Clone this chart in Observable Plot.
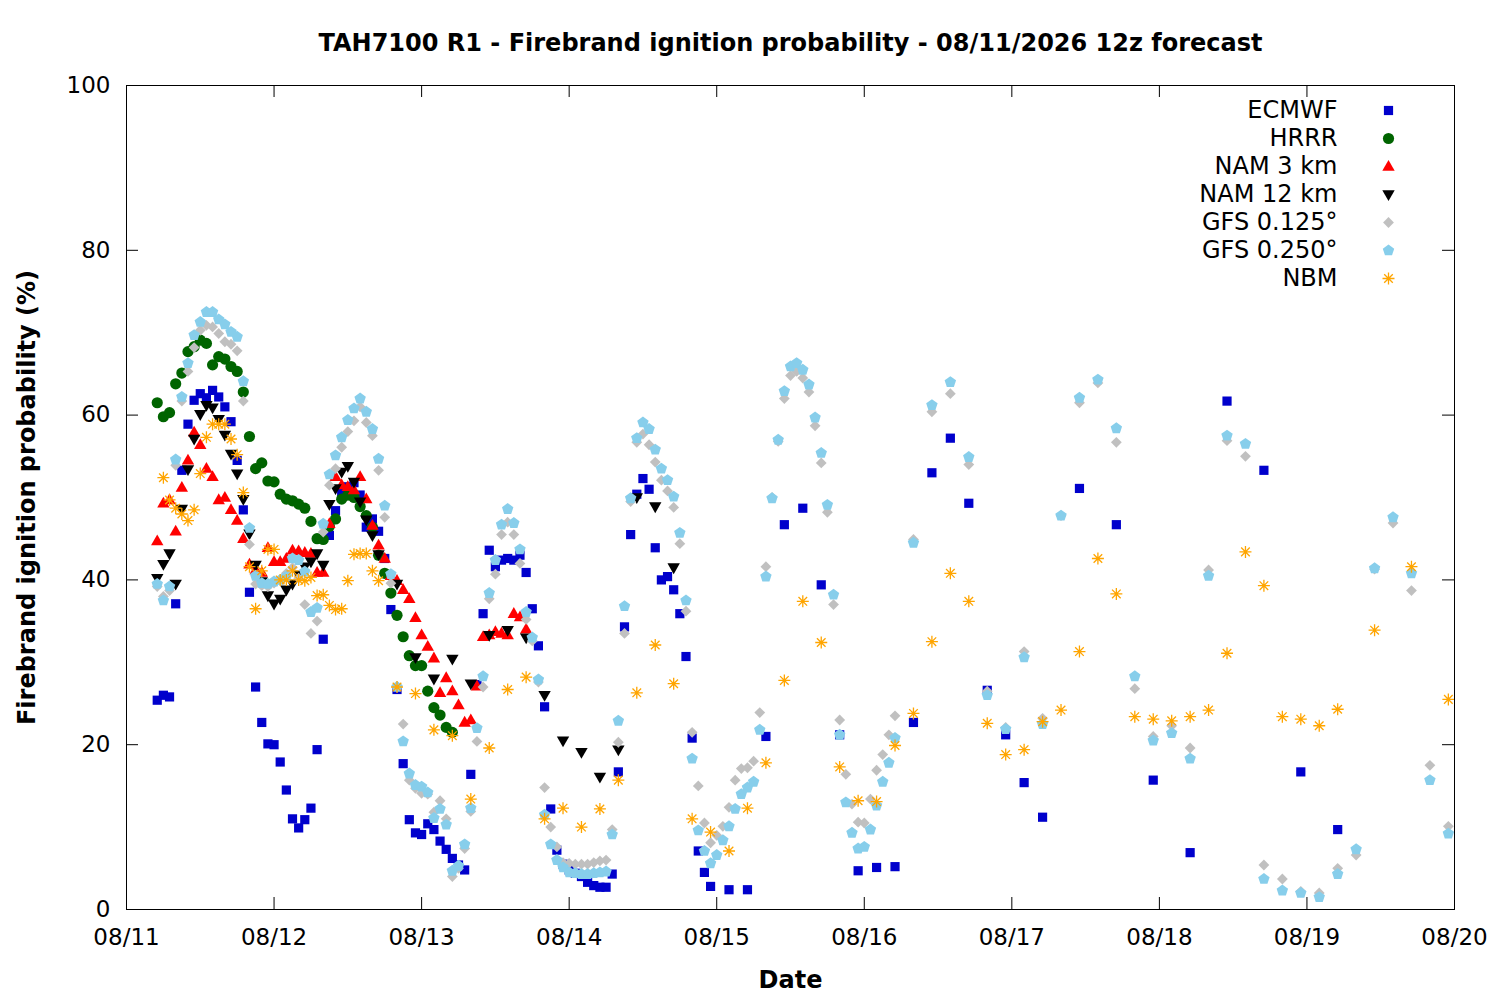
<!DOCTYPE html>
<html>
<head>
<meta charset="utf-8">
<script src="https://cdn.jsdelivr.net/npm/d3@7"></script>
<script src="https://cdn.jsdelivr.net/npm/@observablehq/plot@0.6"></script>
<style>
  html, body { margin: 0; padding: 0; background: #ffffff; }
  #chart svg { display: block; }
</style>
</head>
<body>
<div id="chart"></div>
<script>
// ---------------- text ----------------
const titleText = "TAH7100 R1 - Firebrand ignition probability - 08/11/2026 12z forecast";
const xLabel = "Date";
const yLabel = "Firebrand ignition probability (%)";
const dayLabels = ["08/11","08/12","08/13","08/14","08/15","08/16","08/17","08/18","08/19","08/20"];
const yTicks = [0, 20, 40, 60, 80, 100];
const modelNames = ["ECMWF","HRRR","NAM 3 km","NAM 12 km","GFS 0.125°","GFS 0.250°","NBM"];
const modelColors = ["#0000cc","#006400","#ff0000","#000000","#c0c0c0","#87ceeb","#ffa500"];

// 12z run plotted in local time (12z = 05 local on 08/11); values by forecast hour
// ---------------- ECMWF ----------------
const ecmwfHourly = [ // f0..f90, every hour
  25.4, 26.0, 25.8, 37.1, 53.3, 58.9, 61.8, 62.6, 62.1, 63.0,
  62.2, 61.0, 59.2, 54.5, 48.5, 38.5, 27.0, 22.7, 20.1, 20.0,
  17.9, 14.5, 11.0, 9.9, 10.9, 12.3, 19.4, 32.8, 45.4, 48.4,
  50.5, 51.3, 51.8, 50.3, 46.4, 47.4, 45.9, 42.6, 36.4, 26.7,
  17.7, 10.9, 9.3, 9.1, 10.4, 9.7, 8.3, 7.3, 6.2, 5.4,
  4.8, 16.4, 27.3, 35.9, 43.6, 41.6, 42.4, 42.6, 42.4, 43.0,
  40.9, 36.5, 32.0, 24.6, 12.2, 7.2, 5.5, 4.8, 4.4, 4.0,
  3.3, 2.9, 2.7, 2.7, 4.3, 16.7, 34.3, 45.5, 50.4, 52.3,
  51.0, 43.9, 40.0, 40.4, 38.8, 35.9, 30.7, 20.8, 7.1, 4.5,
  2.8];
const ecmwf3h = [ // f93..f144, every 3 h
  2.4, 2.4, 21.0, 46.7, 48.7, 39.4, 21.2, 4.7, 5.1, 5.2,
  22.7, 53.0, 57.2, 49.3, 26.6, 21.2, 15.4, 11.2];
const ecmwf6h = [ // f150..f192, every 6 h
  51.1, 46.7, 15.7, 6.9, 61.7, 53.3, 16.7, 9.7];

// ---------------- HRRR ----------------
const hrrrHourly = [ // f0..f48
  61.5, 59.8, 60.3, 63.8, 65.1, 67.7, 68.3, 69.1, 68.7, 66.1,
  67.1, 66.8, 65.9, 65.3, 62.8, 57.4, 53.5, 54.2, 52.0, 51.9,
  50.4, 49.8, 49.6, 49.2, 48.7, 47.1, 45.0, 44.9, 46.5, 47.4,
  49.8, 50.3, 50.0, 48.9, 47.8, 46.4, 43.0, 40.8, 38.4, 35.7,
  33.1, 30.8, 29.6, 29.6, 26.5, 24.5, 23.6, 22.1, 21.5];

// ---------------- NAM 3 km ----------------
const nam3Hourly = [ // f0..f60
  44.7, 49.3, 49.7, 45.9, 51.2, 54.5, 57.9, 56.4, 53.5, 52.5,
  49.7, 50.0, 48.5, 47.2, 45.0, 41.9, 41.2, 40.9, 43.9, 42.2,
  42.2, 42.6, 43.6, 43.5, 43.3, 43.2, 40.9, 40.9, 46.8, 52.5,
  51.5, 51.3, 50.9, 52.5, 49.8, 46.6, 44.2, 42.6, 40.5, 39.9,
  38.8, 37.7, 35.4, 33.3, 31.9, 30.5, 26.3, 28.1, 26.5, 24.8,
  22.7, 23.0, 27.1, 33.1, 33.3, 33.7, 33.5, 33.3, 35.9, 35.5,
  34.0];

// ---------------- NAM 12 km ----------------
const nam12Hourly = [ // f0..f36
  40.2, 41.9, 43.2, 39.5, 48.6, 53.4, 57.1, 60.1, 61.2, 60.9,
  59.5, 57.6, 55.3, 52.9, 49.8, 45.6, 41.8, 39.8, 38.1, 37.1,
  37.7, 38.8, 39.5, 40.6, 41.6, 42.2, 43.2, 41.8, 49.2, 51.1,
  53.1, 53.8, 51.9, 49.5, 47.3, 45.4, 43.1];
const nam12_3h = [ // f39..f84
  39.5, 30.6, 28.0, 30.4, 27.4, 33.3, 33.9, 33.0, 26.0, 20.5,
  19.1, 16.1, 19.4, 50.0, 48.9, 41.5];

// ---------------- GFS 0.125 ----------------
const gfs125Hourly = [ // f0..f120
  39.2, 38.0, 38.7, 53.9, 61.7, 65.3, 68.2, 70.3, 70.9, 70.7,
  69.9, 68.9, 68.6, 67.8, 61.7, 44.3, 39.5, 39.3, 39.2, 39.6,
  40.0, 40.8, 41.5, 40.2, 37.0, 33.5, 35.0, 45.8, 51.5, 53.5,
  56.1, 58.0, 59.3, 61.0, 59.1, 57.5, 53.3, 47.6, 39.6, 27.0,
  22.5, 15.7, 14.7, 14.1, 14.0, 11.8, 13.2, 11.0, 4.0, 5.0,
  7.4, 11.9, 20.4, 27.0, 37.7, 40.7, 45.5, 47.0, 45.5, 42.0,
  35.2, 32.6, 27.6, 14.8, 10.0, 7.6, 5.7, 5.6, 5.5, 5.5,
  5.5, 5.7, 5.9, 6.0, 9.7, 20.3, 33.5, 49.5, 56.7, 57.7,
  56.4, 54.3, 52.1, 50.8, 48.8, 44.4, 36.2, 21.5, 15.0, 10.5,
  8.1, 9.0, 10.1, 12.4, 15.7, 17.1, 17.2, 18.0, 23.9, 41.6,
  50.0, 56.8, 62.0, 64.8, 65.3, 64.5, 62.8, 58.7, 54.2, 48.2,
  37.0, 23.0, 16.4, 12.8, 10.6, 10.5, 13.4, 16.9, 18.8, 21.2,
  23.5];
const gfs125_3h = [ // f123..f210
  44.9, 60.4, 62.6, 54.0, 26.5, 22.1, 31.3, 23.2, 47.8, 61.5,
  63.9, 56.7, 26.8, 21.0, 22.3, 19.6, 41.2, 56.9, 55.0, 5.4,
  3.7, 2.2, 2.0, 5.0, 6.6, 41.3, 46.9, 38.7, 17.5, 10.1];

// ---------------- GFS 0.250 ----------------
const gfs250Hourly = [ // f0..f120
  39.5, 37.5, 39.2, 54.6, 62.2, 66.3, 69.7, 71.3, 72.5, 72.5,
  71.6, 71.0, 70.1, 69.5, 64.1, 46.3, 40.5, 39.6, 39.5, 39.8,
  40.0, 40.4, 42.6, 42.4, 41.0, 36.1, 36.6, 46.8, 52.8, 55.1,
  57.3, 59.4, 60.8, 62.0, 60.4, 58.3, 54.7, 49.0, 40.7, 27.0,
  20.4, 16.5, 15.1, 14.9, 14.2, 11.1, 12.2, 10.3, 4.7, 5.3,
  7.9, 12.3, 22.0, 28.3, 38.4, 42.4, 46.7, 48.6, 46.9, 43.7,
  36.1, 33.0, 27.9, 11.5, 7.9, 6.0, 5.1, 4.5, 4.4, 4.3,
  4.3, 4.4, 4.5, 4.6, 9.1, 22.9, 36.8, 49.9, 57.2, 59.1,
  58.3, 55.8, 53.5, 52.1, 50.1, 45.7, 37.5, 18.3, 9.6, 7.1,
  5.6, 6.6, 8.4, 10.1, 12.2, 14.0, 14.8, 15.5, 21.8, 40.4,
  49.9, 57.0, 62.9, 65.9, 66.3, 65.5, 63.7, 59.7, 55.4, 49.1,
  38.2, 21.2, 13.0, 9.3, 7.4, 7.6, 9.7, 12.6, 15.5, 17.8,
  20.8];
const gfs250_3h = [ // f123..f210
  44.5, 61.2, 64.0, 54.9, 26.0, 21.9, 30.6, 22.5, 47.8, 62.1,
  64.3, 58.4, 28.3, 20.5, 21.4, 18.3, 40.5, 57.5, 56.5, 3.7,
  2.3, 2.0, 1.5, 4.3, 7.3, 41.4, 47.6, 40.8, 15.7, 9.2];

// ---------------- NBM ----------------
const nbmHourly = [ // f1..f36
  52.4, 49.7, 48.7, 48.0, 47.2, 48.5, 52.9, 57.3, 58.9, 58.9,
  58.9, 57.1, 55.2, 50.6, 41.6, 36.5, 41.1, 43.7, 43.7, 40.0,
  40.0, 41.1, 40.0, 39.9, 40.3, 38.1, 38.2, 36.9, 36.4, 36.5,
  39.9, 43.1, 43.2, 43.2, 41.1, 39.9];
const nbm3h = [ // f39..f192
  27.0, 26.2, 21.8, 21.1, 13.4, 19.6, 26.7, 28.2, 11.0, 12.3,
  10.0, 12.2, 15.7, 26.3, 32.1, 27.4, 11.0, 9.4, 7.1, 12.3,
  17.8, 27.8, 37.4, 32.4, 17.3, 13.2, 13.1, 19.9, 23.8, 32.5,
  40.8, 37.4, 22.6, 18.8, 19.4, 22.8, 24.2, 31.3, 42.6, 38.3,
  23.4, 23.1, 22.9, 23.4, 24.2, 31.1, 43.4, 39.3, 23.4, 23.1,
  22.3, 24.3];
const nbm6h = [ // f198..f210
  33.9, 41.6, 25.5];

// ---------------- assemble ----------------
const runStart = Date.UTC(2026, 7, 11, 5); // 08/11 12z shown as 05 local
const hour = 3600e3;
function segment(model, firstHour, step, values) {
  return values.map((v, i) => ({model, time: new Date(runStart + (firstHour + i * step) * hour), value: v}));
}
const seriesData = {
  "ECMWF": [...segment("ECMWF", 0, 1, ecmwfHourly), ...segment("ECMWF", 93, 3, ecmwf3h), ...segment("ECMWF", 150, 6, ecmwf6h)],
  "HRRR": segment("HRRR", 0, 1, hrrrHourly),
  "NAM 3 km": segment("NAM 3 km", 0, 1, nam3Hourly),
  "NAM 12 km": [...segment("NAM 12 km", 0, 1, nam12Hourly), ...segment("NAM 12 km", 39, 3, nam12_3h)],
  "GFS 0.125°": [...segment("GFS 0.125°", 0, 1, gfs125Hourly), ...segment("GFS 0.125°", 123, 3, gfs125_3h)],
  "GFS 0.250°": [...segment("GFS 0.250°", 0, 1, gfs250Hourly), ...segment("GFS 0.250°", 123, 3, gfs250_3h)],
  "NBM": [...segment("NBM", 1, 1, nbmHourly), ...segment("NBM", 39, 3, nbm3h), ...segment("NBM", 198, 6, nbm6h)]
};

const dayTicks = dayLabels.map(s => { const [m, d] = s.split("/").map(Number); return new Date(Date.UTC(2026, m - 1, d)); });

// ---------------- point symbols (gnuplot-like) ----------------
function pentagonPath(c, r) {
  for (let k = 0; k < 5; k++) {
    const a = -Math.PI / 2 + k * 2 * Math.PI / 5;
    const px = r * Math.cos(a), py = r * Math.sin(a);
    if (k === 0) c.moveTo(px, py); else c.lineTo(px, py);
  }
  c.closePath();
}
const symbolShapes = {
  "ECMWF": {draw(c) { c.rect(-4.6, -4.6, 9.2, 9.2); }},
  "HRRR": {draw(c) { c.moveTo(5.6, 0); c.arc(0, 0, 5.6, 0, 2 * Math.PI); c.closePath(); }},
  "NAM 3 km": {draw(c) { c.moveTo(0, -6.6); c.lineTo(6.2, 4.2); c.lineTo(-6.2, 4.2); c.closePath(); }},
  "NAM 12 km": {draw(c) { c.moveTo(0, 6.6); c.lineTo(6.2, -4.2); c.lineTo(-6.2, -4.2); c.closePath(); }},
  "GFS 0.125°": {draw(c) { c.moveTo(0, -5.4); c.lineTo(5.4, 0); c.lineTo(0, 5.4); c.lineTo(-5.4, 0); c.closePath(); }},
  "GFS 0.250°": {draw(c) { pentagonPath(c, 6.0); }},
  "NBM": {draw(c) {
    const r = 6, q = 4.3;
    c.moveTo(0, -r); c.lineTo(0, r);
    c.moveTo(-r, 0); c.lineTo(r, 0);
    c.moveTo(-q, -q); c.lineTo(q, q);
    c.moveTo(-q, q); c.lineTo(q, -q);
  }}
};

const W = 1500, H = 1000;
const mL = 126, mR = 46, mT = 85, mB = 91;
const plotW = W - mL - mR, plotH = H - mT - mB;
const font = "DejaVu Sans, Liberation Sans, sans-serif";

const marks = [];
// data marks, drawn in key order (first model at the bottom)
modelNames.forEach((name, i) => {
  const isStar = name === "NBM";
  marks.push(Plot.dot(seriesData[name], {
    x: "time", y: "value",
    symbol: symbolShapes[name],
    fill: isStar ? "none" : modelColors[i],
    stroke: isStar ? modelColors[i] : "none",
    strokeWidth: isStar ? 1.3 : 0,
    r: 5
  }));
});

// frame and inward ticks (all four sides)
marks.push(Plot.frame({stroke: "#000", strokeWidth: 1}));
marks.push(Plot.tickX(dayTicks, {x: d => d, insetTop: plotH - 12, stroke: "#000"}));
marks.push(Plot.tickX(dayTicks, {x: d => d, insetBottom: plotH - 12, stroke: "#000"}));
marks.push(Plot.tickY(yTicks, {y: d => d, insetLeft: plotW - 12, stroke: "#000"}));
marks.push(Plot.tickY(yTicks, {y: d => d, insetRight: plotW - 12, stroke: "#000"}));

// tick labels
marks.push(Plot.axisX(dayTicks, {tickSize: 0, tickPadding: 19, fontSize: 23, tickFormat: (d, i) => dayLabels[i], label: null}));
marks.push(Plot.axisY(yTicks, {tickSize: 0, tickPadding: 16, fontSize: 23, label: null}));

// titles
marks.push(Plot.text([titleText], {frameAnchor: "top", dy: -42, fontSize: 24, fontWeight: "bold", textAnchor: "middle", lineAnchor: "middle"}));
marks.push(Plot.text([xLabel], {frameAnchor: "bottom", dy: 71, fontSize: 24, fontWeight: "bold", textAnchor: "middle", lineAnchor: "middle"}));
marks.push(Plot.text([yLabel], {frameAnchor: "left", dx: -99, rotate: -90, fontSize: 24, fontWeight: "bold", textAnchor: "middle", lineAnchor: "middle"}));

// key (top right, inside the frame)
modelNames.forEach((name, i) => {
  const isStar = name === "NBM";
  marks.push(Plot.text([name], {frameAnchor: "top-right", dx: -117, dy: 25 + i * 28, textAnchor: "end", lineAnchor: "middle", fontSize: 24}));
  marks.push(Plot.dot([name], {frameAnchor: "top-right", dx: -66, dy: 25 + i * 28,
    symbol: symbolShapes[name],
    fill: isStar ? "none" : modelColors[i],
    stroke: isStar ? modelColors[i] : "none",
    strokeWidth: isStar ? 1.3 : 0, r: 5}));
});

const chart = Plot.plot({
  width: W, height: H,
  marginLeft: mL, marginRight: mR, marginTop: mT, marginBottom: mB,
  style: {fontFamily: font, background: "#ffffff", color: "#000"},
  x: {type: "utc", domain: [dayTicks[0], dayTicks[dayTicks.length - 1]]},
  y: {domain: [0, 100]},
  marks
});
document.getElementById("chart").appendChild(chart);
</script>
</body>
</html>
